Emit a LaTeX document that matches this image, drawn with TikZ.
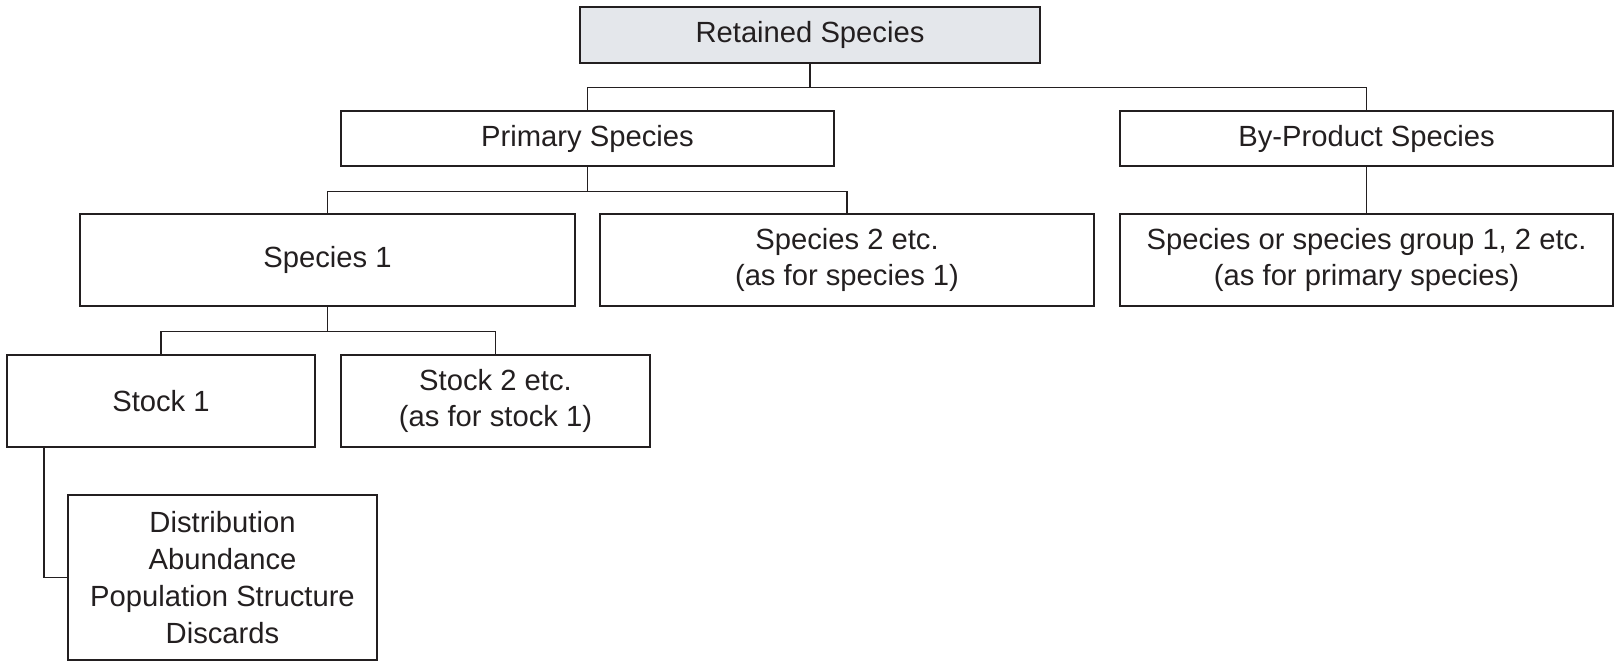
\documentclass[tikz,border=0pt]{standalone}
\usepackage{fontspec}
\setmainfont{Liberation Sans}
\definecolor{cink}{RGB}{35,31,32}
\definecolor{cshade}{RGB}{228,231,235}
\tikzset{
  sptree/.style={x=0.5pt,y=-0.5pt,font=\fontsize{14.6}{18.4}\selectfont,text=cink},
  spbox/.style={draw=cink,line width=1pt,inner sep=0pt,align=center},
  splink/.style={draw=cink,line width=0.6pt},
}

\begin{document}
\begin{tikzpicture}[sptree]
    \useasboundingbox (0,0) rectangle (1615,663);
    % top and second level
    \node[spbox,fill=cshade,minimum width=230pt,minimum height=28pt] (ret) at (810,35) {Retained Species};
    \node[spbox,minimum width=246.5pt,minimum height=27.5pt] (prim) at (587.5,138.5) {Primary Species};
    \node[spbox,minimum width=246.5pt,minimum height=27.5pt] (byp) at (1366.5,138.5) {By-Product Species};
    % species level
    \node[spbox,minimum width=247.5pt,minimum height=46pt] (sp1) at (327.5,260) {Species 1};
    \node[spbox,minimum width=247pt,minimum height=46pt] (sp2) at (847,260) {Species 2 etc.\\(as for species 1)};
    \node[spbox,minimum width=246.5pt,minimum height=46pt] (grp) at (1366.5,260) {Species or species group 1, 2 etc.\\(as for primary species)};
    % stock level
    \node[spbox,minimum width=154pt,minimum height=46pt] (stk1) at (161,401) {Stock 1};
    \node[spbox,minimum width=154.5pt,minimum height=46pt] (stk2) at (495.5,401) {Stock 2 etc.\\(as for stock 1)};
    \node[spbox,minimum width=154.5pt,minimum height=82.5pt] (attr) at (222.5,577.5) {Distribution\\Abundance\\Population Structure\\Discards};
    % connectors
    \draw[splink] (ret.south) -- ++(0,23.5) -| (prim.north);
    \draw[splink] (ret.south) ++(0,23.5) -| (byp.north);
    \draw[splink] (prim.south) -- ++(0,24.5) -| (sp1.north);
    \draw[splink] (prim.south) ++(0,24.5) -| (sp2.north);
    \draw[splink] (byp.south) -- (grp.north);
    \draw[splink] (sp1.south) -- ++(0,24.5) -| (stk1.north);
    \draw[splink] (sp1.south) ++(0,24.5) -| (stk2.north);
    \draw[splink] (stk1.south west) ++(38,0) |- (attr.west);
\end{tikzpicture}
\end{document}
